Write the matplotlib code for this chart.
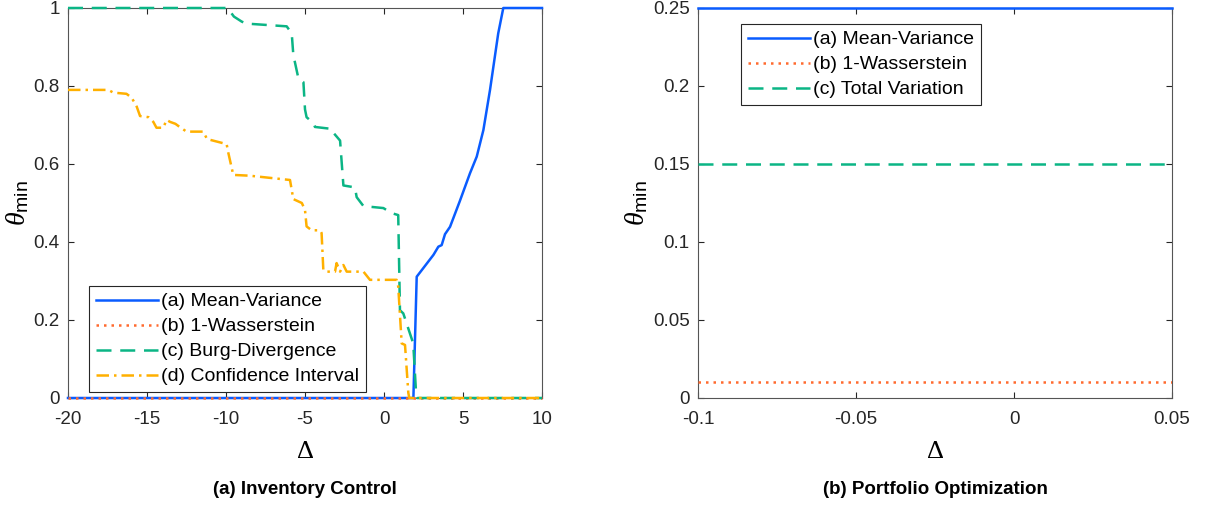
import matplotlib
matplotlib.use('Agg')
from matplotlib import pyplot as plt

plt.rcParams['font.family'] = ['Liberation Sans', 'DejaVu Sans']
plt.rcParams['mathtext.fontset'] = 'custom'
plt.rcParams['mathtext.rm'] = 'Liberation Sans'
plt.rcParams['mathtext.it'] = 'Liberation Serif:italic'

# (a) inventory control
mv_x = [-20, 1.6, 1.86, 2.07, 3.13, 3.44, 3.65, 3.86, 4.18, 4.8, 5.44, 5.87, 6.29, 6.71, 7.23, 7.55, 10]
mv_y = [0, 0, 0.0, 0.311, 0.367, 0.388, 0.392, 0.42, 0.439, 0.505, 0.576, 0.619, 0.687, 0.79, 0.935, 1.0, 1.0]

w1_x = [-20, 10]
w1_y = [0, 0]

burg_x = [-20, -9.9, -9.5, -9.0, -8.7, -6.16, -5.84, -5.74, -5.42, -5.1, -5.0, -4.9, -4.47, -4.37,
          -3.31, -3.2, -2.78, -2.57, -1.84, -1.73, -1.3, -0.04, 0.49, 0.9, 1.01, 1.22, 1.85, 2.03, 2.1, 10]
burg_y = [1, 1, 0.978, 0.965, 0.96, 0.953, 0.935, 0.88, 0.82, 0.81, 0.74, 0.72, 0.705, 0.695,
          0.69, 0.68, 0.66, 0.545, 0.54, 0.515, 0.492, 0.487, 0.474, 0.469, 0.225, 0.217, 0.14, 0.013, 0, 0]

ci_x = [-20, -17.45, -17.13, -16.3, -15.97, -15.65, -15.44, -14.9, -14.6, -14.4, -13.97, -13.76, -13.54,
        -13.2, -13.0, -12.5, -11.44, -11.2, -9.96, -9.85, -9.54, -8.5, -5.95, -5.74, -5.2, -5.0, -4.9,
        -4.58, -4.05, -3.95, -3.84, -3.63, -3.1, -3.0, -2.78, -2.57, -2.36, -1.3, -0.89, 0.8, 0.9,
        1.12, 1.33, 1.54, 1.6, 10]
ci_y = [0.79, 0.79, 0.783, 0.78, 0.77, 0.747, 0.723, 0.72, 0.708, 0.693, 0.693, 0.713, 0.708,
        0.703, 0.697, 0.683, 0.683, 0.664, 0.651, 0.628, 0.572, 0.57, 0.559, 0.51, 0.50, 0.482, 0.44,
        0.43, 0.43, 0.423, 0.328, 0.324, 0.324, 0.346, 0.324, 0.341, 0.324, 0.324, 0.303, 0.303, 0.286,
        0.14, 0.136, 0.013, 0, 0]

# (b) portfolio optimization
pf_x = [-0.1, 0.05]
pf_mv = [0.25, 0.25]
pf_w1 = [0.01, 0.01]
pf_tv = [0.15, 0.15]

c_blue = '#0A5CFF'
c_red = '#FF6A2E'
c_green = '#0BB585'
c_orange = '#FFB000'
lw = 1.8

fig = plt.figure(figsize=(12.07, 5.08), dpi=100)
ax1 = fig.add_axes([68 / 1207, 110 / 508, 474 / 1207, 390 / 508])
ax2 = fig.add_axes([698 / 1207, 110 / 508, 474 / 1207, 390 / 508])

ax1.plot(mv_x, mv_y, color=c_blue, lw=lw, label='(a) Mean-Variance', clip_on=False, zorder=3)
ax1.plot(w1_x, w1_y, color=c_red, lw=lw, dashes=(1, 2), label='(b) 1-Wasserstein', clip_on=False, zorder=3)
ax1.plot(burg_x, burg_y, color=c_green, lw=lw, dashes=(6, 3.5), label='(c) Burg-Divergence',
         clip_on=False, zorder=3)
ax1.plot(ci_x, ci_y, color=c_orange, lw=lw, dashes=(5, 2, 1, 2), label='(d) Confidence Interval',
         clip_on=False, zorder=3)
ax1.set_xlim(-20, 10)
ax1.set_ylim(0, 1)
ax1.set_xticks([-20, -15, -10, -5, 0, 5, 10])
ax1.set_xticklabels(['-20', '-15', '-10', '-5', '0', '5', '10'])
ax1.set_yticks([0, 0.2, 0.4, 0.6, 0.8, 1])
ax1.set_yticklabels(['0', '0.2', '0.4', '0.6', '0.8', '1'])
leg1 = ax1.legend(loc='lower left', bbox_to_anchor=(0.044, 0.015), fontsize=14, handlelength=3.2,
                  handletextpad=0.15, labelspacing=0.38, borderpad=0.35, fancybox=False, framealpha=1,
                  edgecolor='#262626', borderaxespad=0)
leg1.get_frame().set_linewidth(0.8)
leg1.set_zorder(5)

ax2.plot(pf_x, pf_mv, color=c_blue, lw=lw, label='(a) Mean-Variance', clip_on=False, zorder=3)
ax2.plot(pf_x, pf_w1, color=c_red, lw=lw, dashes=(1, 2), label='(b) 1-Wasserstein', zorder=3)
ax2.plot(pf_x, pf_tv, color=c_green, lw=lw, dashes=(6, 3.5), label='(c) Total Variation', zorder=3)
ax2.set_xlim(-0.1, 0.05)
ax2.set_ylim(0, 0.25)
ax2.set_xticks([-0.1, -0.05, 0, 0.05])
ax2.set_xticklabels(['-0.1', '-0.05', '0', '0.05'])
ax2.set_yticks([0, 0.05, 0.1, 0.15, 0.2, 0.25])
ax2.set_yticklabels(['0', '0.05', '0.1', '0.15', '0.2', '0.25'])
leg2 = ax2.legend(loc='upper left', bbox_to_anchor=(0.091, 0.959), fontsize=14, handlelength=3.2,
                  handletextpad=0.15, labelspacing=0.38, borderpad=0.35, fancybox=False, framealpha=1,
                  edgecolor='#262626', borderaxespad=0)
leg2.get_frame().set_linewidth(0.8)
leg2.set_zorder(5)

for ax in (ax1, ax2):
    ax.tick_params(direction='in', top=True, right=True, labelsize=13.5, colors='#262626', length=4)
    ax.tick_params(axis='x', pad=9)
    ax.tick_params(axis='y', pad=6)
    for s in ax.spines.values():
        s.set_color('#555555')
        s.set_linewidth(0.8)
    ax.set_xlabel('Δ', fontsize=19, family='Liberation Serif', labelpad=10)
    ax.set_ylabel(r'$\theta_{\mathrm{min}}$', fontsize=20, labelpad=2)

fig.text(305 / 1207, 1 - 490 / 508, '(a) Inventory Control', ha='center', va='center',
         fontsize=13.5, fontweight='bold')
fig.text(935 / 1207, 1 - 490 / 508, '(b) Portfolio Optimization', ha='center', va='center',
         fontsize=13.5, fontweight='bold')

fig.savefig('out.png', dpi=100)
